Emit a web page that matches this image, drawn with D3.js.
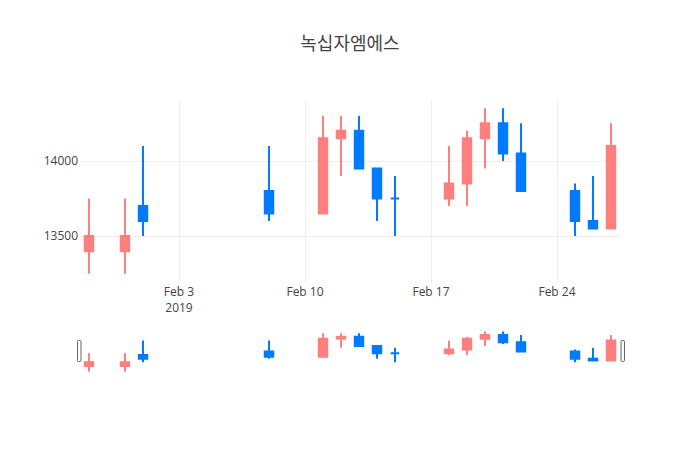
<!DOCTYPE html>
<html>
<head>
<meta charset="utf-8">
<script src="https://cdn.jsdelivr.net/npm/d3@7"></script>
<style>
  body { margin: 0; background: #fff; }
  text { font-family: "Open Sans", "Noto Sans CJK KR", sans-serif; }
</style>
</head>
<body>
<svg id="chart"></svg>
<script>
const dates = ["2019-01-29", "2019-01-31", "2019-02-01", "2019-02-08", "2019-02-11", "2019-02-12",
    "2019-02-13", "2019-02-14", "2019-02-15", "2019-02-18", "2019-02-19", "2019-02-20",
    "2019-02-21", "2019-02-22", "2019-02-25", "2019-02-26", "2019-02-27"]
const open = [13400, 13400, 13700, 13800, 13650, 14150, 14200, 13950, 13750, 13750, 13850, 14150, 14250, 14050, 13800, 13600, 13550]
const high = [13750, 13750, 14100, 14100, 14300, 14300, 14300, 13950, 13900, 14100, 14200, 14350, 14350, 14250, 13850, 13900, 14250]
const low = [13250, 13250, 13500, 13600, 13650, 13900, 13950, 13600, 13500, 13700, 13700, 13950, 14000, 13800, 13500, 13550, 13550]
const close = [13500, 13500, 13600, 13650, 14150, 14200, 13950, 13750, 13750, 13850, 14150, 14250, 14050, 13800, 13600, 13550, 14100]

const xTicks = ["2019-02-03", "2019-02-10", "2019-02-17", "2019-02-24"]
const yTicks = [13500, 14000]
const title = '녹십자엠에스'

const upColor = '#ff7f7f'
const downColor = '#007bff'

const width = 700
const height = 450
const parse = d3.utcParse('%Y-%m-%d')

const data = dates.map((d, i) => ({
    date: parse(d), open: open[i], high: high[i], low: low[i], close: close[i]
}))

const svg = d3.select('#chart')
    .attr('width', width)
    .attr('height', height)

svg.append('rect').attr('width', width).attr('height', height).attr('fill', '#fff')

const halfDay = 12 * 3600 * 1000
var x = d3.scaleUtc()
    .domain([new Date(parse('2019-01-29') - halfDay), new Date(+parse('2019-02-27') + halfDay)])
    .range([80, 620])

var y = d3.scaleLinear()
    .domain([13195, 14405])
    .range([282, 100])

// slider has its own y scale
var ys = d3.scaleLinear()
    .domain([13233, 14388])
    .range([372, 330])

const dayPx = x(parse('2019-01-30')) - x(parse('2019-01-29'))
const bodyW = dayPx * 0.47

//grid
svg.append('g')
    .selectAll('line')
    .data(yTicks)
    .join('line')
    .attr('x1', 80).attr('x2', 620)
    .attr('y1', d => Math.round(y(d)) + 0.5)
    .attr('y2', d => Math.round(y(d)) + 0.5)
    .attr('stroke', '#eee')

svg.append('g')
    .selectAll('line')
    .data(xTicks)
    .join('line')
    .attr('x1', d => Math.round(x(parse(d))) + 0.5)
    .attr('x2', d => Math.round(x(parse(d))) + 0.5)
    .attr('y1', 100).attr('y2', 282)
    .attr('stroke', '#eee')

//y labels
svg.append('g')
    .selectAll('text')
    .data(yTicks)
    .join('text')
    .text(d => d)
    .attr('x', 78)
    .attr('y', d => y(d))
    .attr('dy', '0.35em')
    .attr('text-anchor', 'end')
    .attr('fill', '#444')
    .style('font-size', '12px')

//x labels
const fmt = d3.utcFormat('%b %-d')
const xl = svg.append('g')
    .selectAll('text')
    .data(xTicks)
    .join('text')
    .attr('x', d => x(parse(d)))
    .attr('y', 296)
    .attr('text-anchor', 'middle')
    .attr('fill', '#444')
    .style('font-size', '12px')
xl.append('tspan').text(d => fmt(parse(d)))
xl.filter((d, i) => i === 0)
    .append('tspan')
    .attr('x', d => x(parse(d)))
    .attr('dy', 16)
    .text(d => d3.utcFormat('%Y')(parse(d)))

//candles
function candles(g, yScale) {
    const c = g.selectAll('g')
        .data(data)
        .join('g')
        .attr('stroke', d => d.close > d.open ? upColor : downColor)
        .attr('fill', d => d.close > d.open ? upColor : downColor)
    c.append('line')
        .attr('x1', d => x(d.date)).attr('x2', d => x(d.date))
        .attr('y1', d => yScale(d.high)).attr('y2', d => yScale(d.low))
        .attr('stroke-width', 2)
    // body as a path so a doji (open == close) still shows its stroke
    c.append('path')
        .attr('d', d => {
            const x0 = x(d.date) - bodyW / 2, x1 = x(d.date) + bodyW / 2
            const y0 = yScale(d.open), y1 = yScale(d.close)
            return `M${x0},${y0}H${x1}V${y1}H${x0}Z`
        })
        .attr('stroke-width', 2)
}

candles(svg.append('g'), y)

//range slider
svg.append('rect')
    .attr('x', 80).attr('y', 330)
    .attr('width', 540).attr('height', 42)
    .attr('fill', '#fff')
candles(svg.append('g'), ys)

svg.append('g')
    .selectAll('rect')
    .data([77.5, 621])
    .join('rect')
    .attr('x', d => d)
    .attr('y', 340.5)
    .attr('width', 3.5)
    .attr('height', 21)
    .attr('rx', 1)
    .attr('fill', '#fff')
    .attr('stroke', '#666')
    .attr('stroke-width', 1)

//title
svg.append('text')
    .text(title)
    .attr('x', width / 2)
    .attr('y', 44)
    .attr('dy', '0.35em')
    .attr('text-anchor', 'middle')
    .attr('fill', '#444')
    .style('font-size', '18px')
</script>
</body>
</html>
